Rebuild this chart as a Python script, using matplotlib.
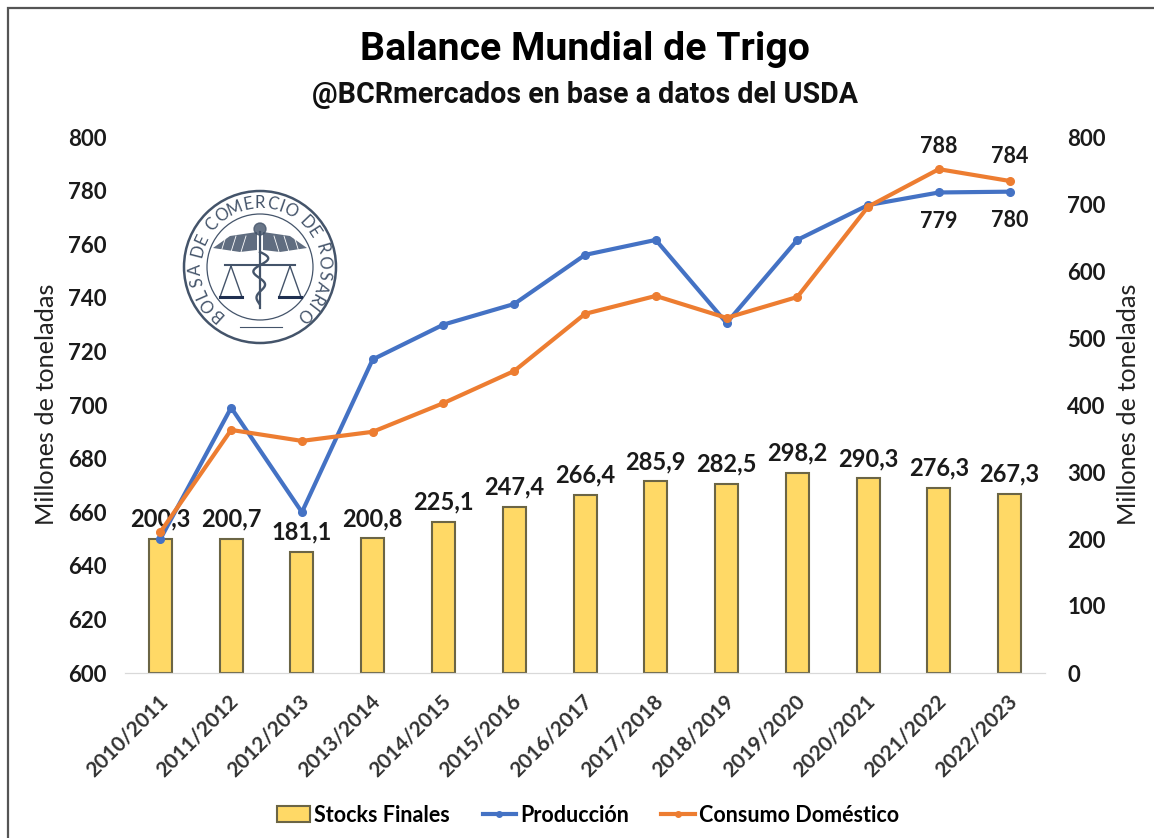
import numpy as np
import matplotlib
matplotlib.use('Agg')
import matplotlib.pyplot as plt
from matplotlib.lines import Line2D
from matplotlib.patches import Circle, Rectangle
from matplotlib.transforms import ScaledTranslation

campanas = ['2010/2011','2011/2012','2012/2013','2013/2014','2014/2015','2015/2016','2016/2017',
            '2017/2018','2018/2019','2019/2020','2020/2021','2021/2022','2022/2023']
stocks = [200.3,200.7,181.1,200.8,225.1,247.4,266.4,285.9,282.5,298.2,290.3,276.3,267.3]
produccion = [650,699,660,717,730,737.7,756,761.6,730.6,761.6,774.6,779.3,779.6]
consumo = [652.6,690.7,686.6,690,700.7,712.7,734,740.7,732.5,740.3,774,788,783.6]
izq_ticks = [600,620,640,660,680,700,720,740,760,780,800]
der_ticks = [0,100,200,300,400,500,600,700,800]
etiq_stocks = ['200,3','200,7','181,1','200,8','225,1','247,4','266,4','285,9','282,5','298,2','290,3','276,3','267,3']

AZUL='#4472c4'
NARANJA='#ed7d31'
AMARILLO='#ffd966'
BORDE='#6b6545'
W,H=1154,838
plt.rcParams['font.family']=['Lato','DejaVu Sans']

fig=plt.figure(figsize=(W/100,H/100),dpi=100)
fig.patch.set_facecolor('white')
fig.add_artist(Rectangle((8/W,-0.02),(1170)/W,1-8/H+0.02,transform=fig.transFigure,fill=False,ec='#555555',lw=1.6))

ax=fig.add_axes([125/W,1-673/H,920/W,536/H])
ax2=ax.twinx()
x=np.arange(len(campanas))
# las barras van en el eje derecho, pero detras de las lineas
ax.set_zorder(2); ax2.set_zorder(1); ax.patch.set_visible(False)
ax2.bar(x,stocks,width=0.325,color=AMARILLO,edgecolor=BORDE,linewidth=1.5)
ax.plot(x,produccion,color=AZUL,lw=3,marker='o',ms=5.5)
ax.plot(x,consumo,color=NARANJA,lw=3,marker='o',ms=5.5)

ax.set_xlim(-0.5,len(x)-0.5)
ax.set_ylim(600,800); ax2.set_ylim(0,800)
ax.set_yticks(izq_ticks,[str(v) for v in izq_ticks],fontweight='bold',fontsize=16,color='#1a1a1a')
ax2.set_yticks(der_ticks,[str(v) for v in der_ticks],fontweight='bold',fontsize=16,color='#1a1a1a')
ax.set_xticks(x,campanas,rotation=45,ha='right',rotation_mode='anchor',fontsize=15,fontweight='bold',color='#333333')
ax.tick_params(axis='x',length=0,pad=13)
ax.tick_params(axis='y',length=0,pad=13)
ax2.tick_params(axis='y',length=0,pad=16)
corrimiento=ScaledTranslation(-3/100,0,fig.dpi_scale_trans)
for t in ax.get_xticklabels():
    t.set_transform(t.get_transform()+corrimiento)
for a in (ax,ax2):
    for s in a.spines.values(): s.set_visible(False)
    a.spines['bottom'].set_visible(True); a.spines['bottom'].set_color('#d9d9d9')

fig.text(47/W,1-404/H,'Millones de toneladas',rotation=90,ha='center',va='center',fontsize=18.2,color='#222222')
fig.text(1128/W,1-404/H,'Millones de toneladas',rotation=90,ha='center',va='center',fontsize=18.2,color='#222222')

fig.text(585/W,1-50/H,'Balance Mundial de Trigo',ha='center',va='center',fontsize=28.3,fontweight='bold',color='black',family='Roboto')
fig.text(585/W,1-95/H,'@BCRmercados en base a datos del USDA',ha='center',va='center',fontsize=20.6,fontweight='bold',color='#111111',family='Roboto')

for i,v in enumerate(stocks):
    ax2.annotate(etiq_stocks[i],(i,v),xytext=(0,6),textcoords='offset points',ha='center',va='bottom',fontsize=17,fontweight='bold',color='#1a1a1a')
for i,txt,v,dy,va in [(11,'788',consumo[11],9,'bottom'),(12,'784',consumo[12],10,'bottom'),
                      (11,'779',produccion[11],-13,'top'),(12,'780',produccion[12],-13,'top')]:
    ax.annotate(txt,(i,v),xytext=(0,dy),textcoords='offset points',ha='center',va=va,fontsize=15.5,fontweight='bold',color='#1a1a1a')

# leyenda
hb=[Rectangle((0,0),1,1,fc=AMARILLO,ec=BORDE,lw=1.5),
    Line2D([],[],color=AZUL,lw=3,marker='o',ms=4),
    Line2D([],[],color=NARANJA,lw=3,marker='o',ms=4)]
fig.legend(hb,['Stocks Finales','Producción','Consumo Doméstico'],loc='center',bbox_to_anchor=(588/W,1-815/H),ncol=3,frameon=False,
           prop={'size':15.5,'weight':'bold','family':'Lato'},handlelength=1.55,handletextpad=0.2,columnspacing=1.5)

# logo de la Bolsa
lg=fig.add_axes([0,0,1,1]); lg.set_xlim(0,W); lg.set_ylim(H,0); lg.axis('off'); lg.patch.set_visible(False)
cx,cy=260,267
C='#44546a'
lg.add_patch(Circle((cx,cy),76,fill=False,ec=C,lw=1.8))
lg.add_patch(Circle((cx,cy),53,fill=False,ec=C,lw=0.9))
texto='BOLSA DE COMERCIO DE ROSARIO'
anchos=np.array([0.5 if ch in 'I ' else 1.2 if ch in 'MO' else 1.0 for ch in texto])
pos=np.cumsum(anchos)-anchos/2
angs=228-(pos-pos[0])/(pos[-1]-pos[0])*275
for ch,a in zip(texto,angs):
    r=np.deg2rad(a)
    lg.text(cx+64*np.cos(r),cy-64*np.sin(r),ch,rotation=a-90,ha='center',va='center',fontsize=12,color=C,rotation_mode='anchor')
# alas, balanza y baston
for s in (-1,1):
    lg.fill([cx+s*47,cx+s*30,cx+s*3,cx+s*3,cx+s*20],[248,236,232,250,252],color=C,alpha=.85,lw=0)
    for k in (14,24,34):
        lg.plot([cx+s*k,cx+s*(k+5)],[236,252],color='white',lw=.6)
lg.add_patch(Circle((cx,229),6,color=C,alpha=.8))
lg.plot([225,295],[265,265],color=C,lw=1.5)
lg.plot([cx,cx],[232,308],color=C,lw=1.6)
yy=np.linspace(252,304,60)
lg.plot(cx+9*np.sin((yy-252)/4.2)*(1-(yy-252)/75),yy,color=C,lw=1.7)
for bx in (231,290):
    lg.plot([bx,bx-11,bx+11,bx],[266,297,297,266],color=C,lw=1)
    lg.plot([bx-11,bx+11],[297,297],color='#1f2f50',lw=2.2)
lg.plot([240,282],[327,327],color=C,lw=.8)

fig.savefig('out.png',dpi=100)
